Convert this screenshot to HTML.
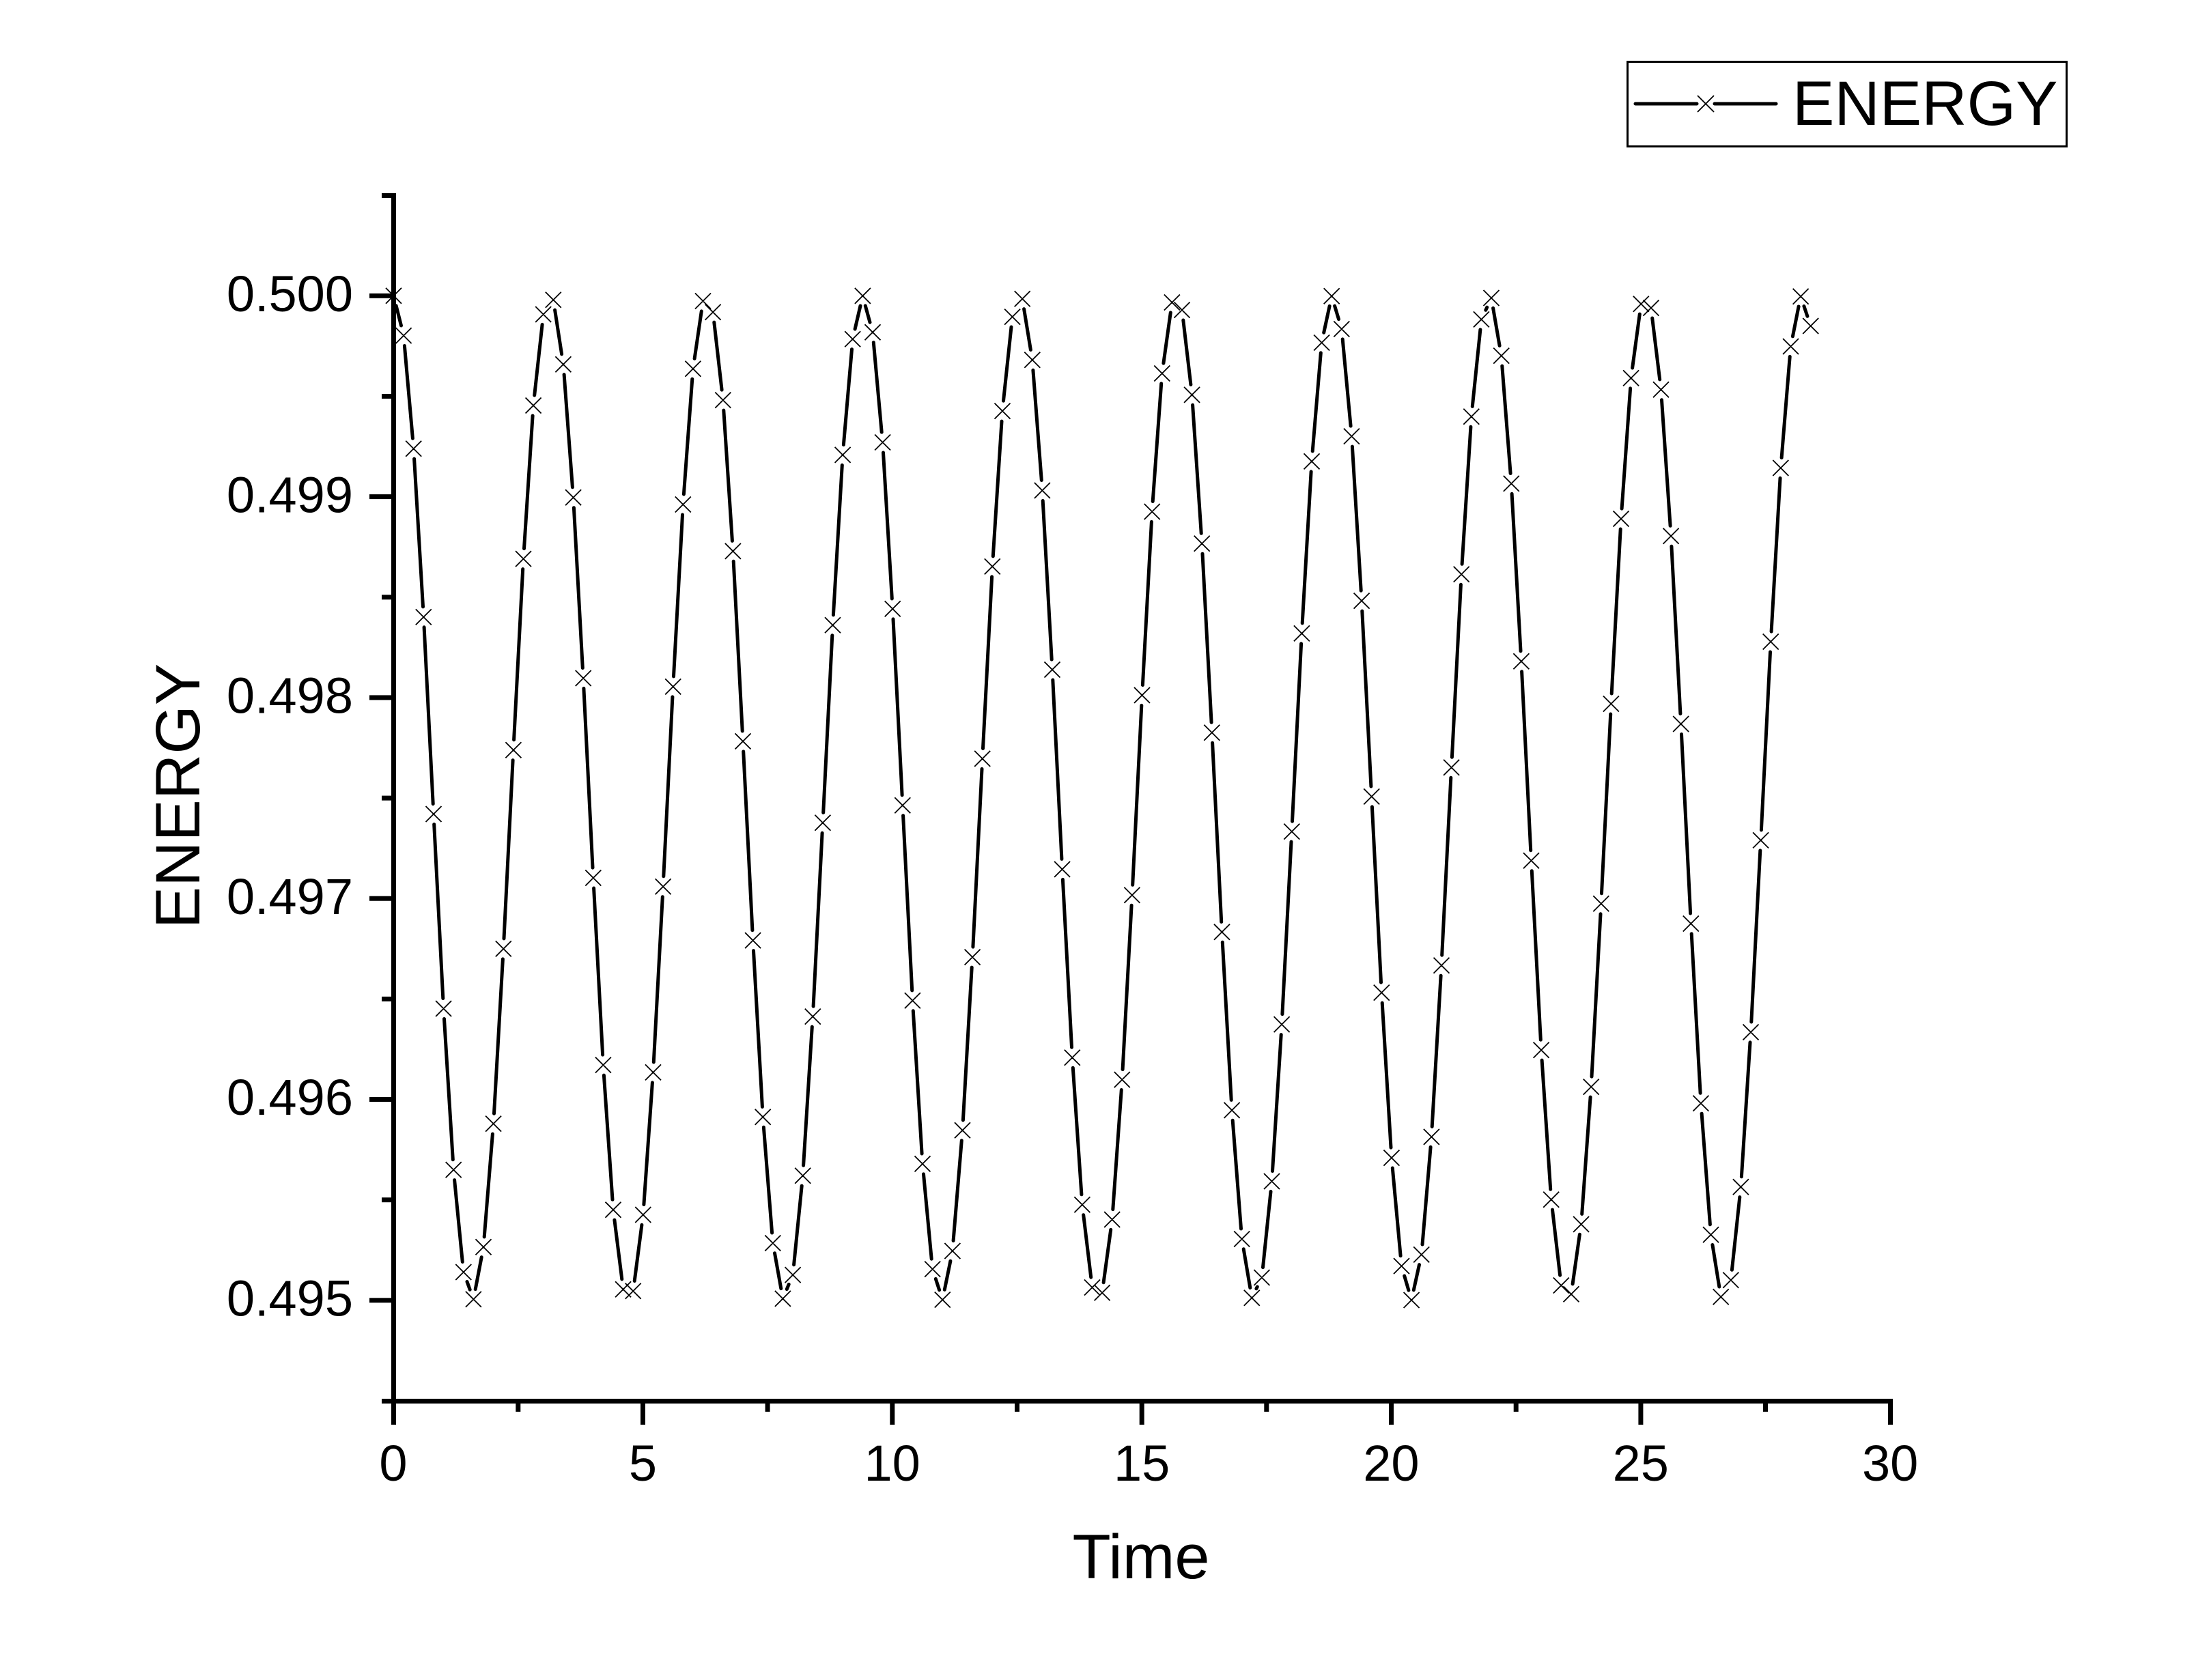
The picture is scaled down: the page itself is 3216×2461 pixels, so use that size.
<!DOCTYPE html>
<html>
<head>
<meta charset="utf-8">
<style>
  html, body { margin: 0; padding: 0; background: #ffffff; }
  svg { display: block; }
  text { font-family: "Liberation Sans", Arial, sans-serif; fill: #000; }
</style>
</head>
<body>
<svg id="chart" width="3216" height="2461" viewBox="0 0 3216 2461" xmlns="http://www.w3.org/2000/svg">
  <rect x="0" y="0" width="3216" height="2461" fill="#ffffff"/>

  <!-- Axes -->
  <rect x="573" y="283" width="7" height="1772" fill="#000"/>
  <rect x="573" y="2049" width="2199" height="7" fill="#000"/>

  <!-- Y ticks (major) -->
  <g fill="#000">
    <rect x="541" y="429.8" width="35" height="7"/>
    <rect x="541" y="724.1" width="35" height="7"/>
    <rect x="541" y="1018.4" width="35" height="7"/>
    <rect x="541" y="1312.7" width="35" height="7"/>
    <rect x="541" y="1607" width="35" height="7"/>
    <rect x="541" y="1901.3" width="35" height="7"/>
    <!-- minor -->
    <rect x="559" y="283" width="17" height="7"/>
    <rect x="559" y="577" width="17" height="7"/>
    <rect x="559" y="871.3" width="17" height="7"/>
    <rect x="559" y="1165.6" width="17" height="7"/>
    <rect x="559" y="1459.9" width="17" height="7"/>
    <rect x="559" y="1754.2" width="17" height="7"/>
    <rect x="559" y="2049" width="17" height="7"/>
  </g>

  <!-- X ticks -->
  <g fill="#000">
    <rect x="573" y="2052" width="7" height="35"/>
    <rect x="938" y="2052" width="7" height="35"/>
    <rect x="1303.3" y="2052" width="7" height="35"/>
    <rect x="1668.7" y="2052" width="7" height="35"/>
    <rect x="2034" y="2052" width="7" height="35"/>
    <rect x="2399.4" y="2052" width="7" height="35"/>
    <rect x="2765" y="2052" width="7" height="35"/>
    <rect x="755.3" y="2052" width="7" height="16"/>
    <rect x="1120.6" y="2052" width="7" height="16"/>
    <rect x="1486" y="2052" width="7" height="16"/>
    <rect x="1851.3" y="2052" width="7" height="16"/>
    <rect x="2216.7" y="2052" width="7" height="16"/>
    <rect x="2582" y="2052" width="7" height="16"/>
  </g>

  <!-- Y tick labels -->
  <g font-size="74" text-anchor="end">
    <text x="517" y="456">0.500</text>
    <text x="517" y="750.3">0.499</text>
    <text x="517" y="1044.6">0.498</text>
    <text x="517" y="1338.9">0.497</text>
    <text x="517" y="1633.2">0.496</text>
    <text x="517" y="1927.5">0.495</text>
  </g>

  <!-- X tick labels -->
  <g font-size="74" text-anchor="middle">
    <text x="576" y="2169">0</text>
    <text x="941.4" y="2169">5</text>
    <text x="1306.7" y="2169">10</text>
    <text x="1672.1" y="2169">15</text>
    <text x="2037.4" y="2169">20</text>
    <text x="2402.8" y="2169">25</text>
    <text x="2768.1" y="2169">30</text>
  </g>

  <!-- Axis titles -->
  <text x="1671" y="2312" font-size="92" text-anchor="middle">Time</text>
  <text x="0" y="0" font-size="92" text-anchor="middle" transform="translate(292,1166) rotate(-90)">ENERGY</text>

  <!-- Legend -->
  <rect x="2383.5" y="90.5" width="643" height="124" fill="none" stroke="#000" stroke-width="3"/>
  <line x1="2395" y1="152" x2="2485" y2="152" stroke="#000" stroke-width="5" stroke-linecap="round"/>
  <line x1="2511" y1="152" x2="2601" y2="152" stroke="#000" stroke-width="5" stroke-linecap="round"/>
  <path d="M2486 140 L2510 164 M2510 140 L2486 164" stroke="#000" stroke-width="1.8" fill="none"/>
  <text x="2625" y="183" font-size="92">ENERGY</text>

  <!-- Data series -->
  <path id="seriesLine" d="" stroke="#000" stroke-width="5" stroke-linecap="round" fill="none"/>
  <path id="seriesMarks" d="" stroke="#000" stroke-width="1.8" fill="none"/>
</svg>
<script>
(function(){
  var w = 2.00342;
  var pts = [];
  for (var k = 0; k <= 142; k++) {
    var t = 0.2 * k;
    var E = 0.4975 + 0.0025 * Math.cos(w * t);
    var x = 576.5 + 73.07 * t;
    var y = 433.3 + (0.5 - E) * 294300;
    pts.push([x, y]);
  }
  var gap = 15;
  var d = "";
  for (var i = 0; i < pts.length - 1; i++) {
    var p = pts[i], q = pts[i+1];
    var dx = q[0] - p[0], dy = q[1] - p[1];
    var L = Math.sqrt(dx*dx + dy*dy);
    if (L > 2 * gap + 1) {
      var ux = dx / L, uy = dy / L;
      d += "M" + (p[0] + ux*gap).toFixed(1) + " " + (p[1] + uy*gap).toFixed(1) +
           "L" + (q[0] - ux*gap).toFixed(1) + " " + (q[1] - uy*gap).toFixed(1);
    }
  }
  document.getElementById("seriesLine").setAttribute("d", d);
  var m = "";
  var s = 11.5;
  for (var j = 0; j < pts.length; j++) {
    var x0 = pts[j][0], y0 = pts[j][1];
    m += "M" + (x0 - s).toFixed(1) + " " + (y0 - s).toFixed(1) + "L" + (x0 + s).toFixed(1) + " " + (y0 + s).toFixed(1) +
         "M" + (x0 + s).toFixed(1) + " " + (y0 - s).toFixed(1) + "L" + (x0 - s).toFixed(1) + " " + (y0 + s).toFixed(1);
  }
  document.getElementById("seriesMarks").setAttribute("d", m);
})();
</script>
</body>
</html>
